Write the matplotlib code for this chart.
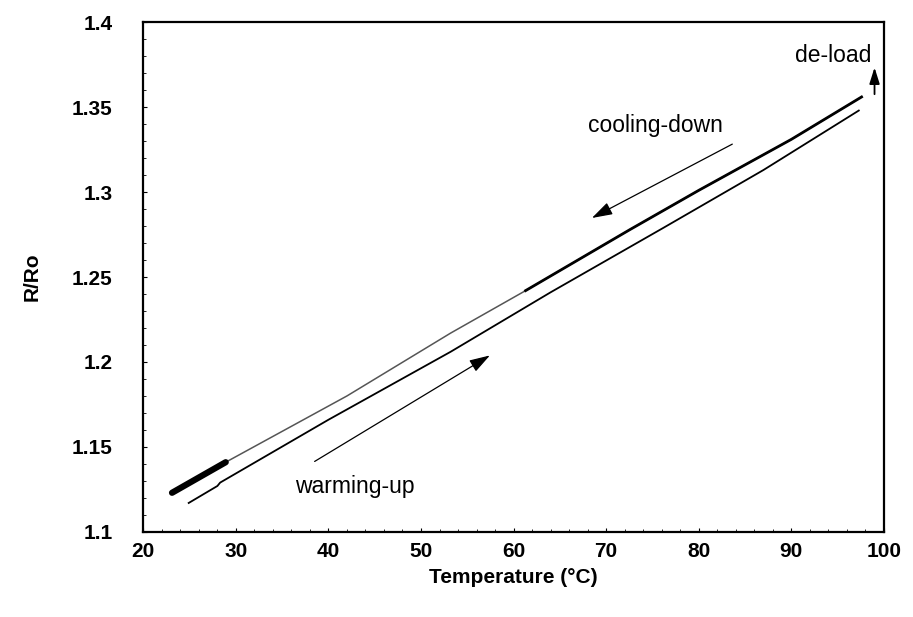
import matplotlib
matplotlib.use("Agg")
import matplotlib.pyplot as plt
from matplotlib.ticker import MultipleLocator

FAM = "Liberation Sans"

# warming-up branch (lower line)
warm_T = [24.9, 28.0, 28.3, 40.0, 53.2, 64.0, 76.2, 87.0, 97.3]
warm_R = [1.117, 1.127, 1.129, 1.166, 1.206, 1.241, 1.279, 1.313, 1.348]

# cooling-down branch (upper line)
cool_T = [97.6, 90.0, 80.0, 72.6, 61.3, 53.2, 42.0, 28.9, 26.0, 23.1]
cool_R = [1.356, 1.331, 1.301, 1.278, 1.242, 1.217, 1.180, 1.141, 1.132, 1.123]

# heavier-inked parts of the cooling trace
dark_T = [97.6, 90.0, 80.0, 72.6, 61.3]
dark_R = [1.356, 1.331, 1.301, 1.278, 1.242]
blob_T = [28.9, 26.0, 23.1]
blob_R = [1.141, 1.132, 1.123]

fig = plt.figure(figsize=(9.13, 6.17), dpi=100)
ax = fig.add_axes([0.157, 0.138, 0.811, 0.826])

ax.plot(warm_T, warm_R, color="black", lw=1.3)
ax.plot(cool_T, cool_R, color="#555555", lw=1.1)
ax.plot(dark_T, dark_R, color="black", lw=2.0)
ax.plot(blob_T, blob_R, color="black", lw=4.5, solid_capstyle="round")

ax.set_xlim(20, 100)
ax.set_ylim(1.1, 1.4)
ax.xaxis.set_major_locator(MultipleLocator(10))
ax.yaxis.set_major_locator(MultipleLocator(0.05))
ax.xaxis.set_minor_locator(MultipleLocator(2))
ax.yaxis.set_minor_locator(MultipleLocator(0.01))
ax.tick_params(which="both", direction="in", top=False, right=False)
ax.tick_params(which="major", length=3, width=0.8)
ax.tick_params(which="minor", length=2, width=0.6)
ax.tick_params(axis="x", which="major", pad=7)
ax.tick_params(axis="y", which="major", pad=22)
ax.yaxis.set_major_formatter(plt.FuncFormatter(lambda v, p: f"{v:.2f}".rstrip("0").rstrip(".")))

for lab in ax.get_xticklabels() + ax.get_yticklabels():
    lab.set_fontfamily(FAM)
    lab.set_fontweight("bold")
    lab.set_fontsize(15)

for s in ax.spines.values():
    s.set_linewidth(1.6)

ax.set_xlabel("Temperature (°C)", fontfamily=FAM, fontweight="bold", fontsize=15, labelpad=5)
ax.set_ylabel("R/Ro", fontfamily=FAM, fontweight="bold", fontsize=15, labelpad=22)

arrow = dict(arrowstyle="-|>,head_length=0.7,head_width=0.22", color="black", lw=0.9, mutation_scale=18)
ax.annotate("", xy=(68.2, 1.284), xytext=(83.9, 1.329), arrowprops=arrow)
ax.annotate("", xy=(57.7, 1.2047), xytext=(38.25, 1.1406), arrowprops=arrow)
ax.annotate("", xy=(99.0, 1.375), xytext=(99.0, 1.356),
            arrowprops=dict(arrow, lw=1.3, mutation_scale=14))

ax.text(75.3, 1.339, "cooling-down", fontfamily=FAM, fontsize=16.5, ha="center", va="center")
ax.text(42.8, 1.1265, "warming-up", fontfamily=FAM, fontsize=16.5, ha="center", va="center")
ax.text(94.5, 1.3806, "de-load", fontfamily=FAM, fontsize=16.5, ha="center", va="center")

fig.savefig("out.png", dpi=100)
